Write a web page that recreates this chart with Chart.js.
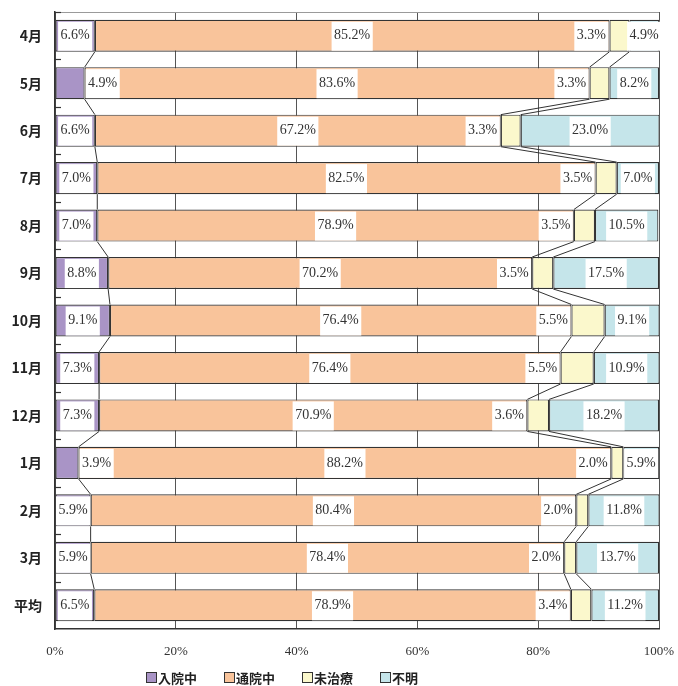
<!DOCTYPE html>
<html>
<head>
<meta charset="utf-8">
<script src="https://cdn.jsdelivr.net/npm/chart.js@4/dist/chart.umd.min.js"></script>
<style>
  html, body { margin: 0; padding: 0; background: #fff; }
  #wrap { width: 678px; height: 686px; position: relative; }
</style>
</head>
<body>
<div id="wrap"><canvas id="c" width="678" height="686"></canvas></div>
<script>
// Monthly breakdown of treatment status (percent of cases)
const months = ['4月', '5月', '6月', '7月', '8月', '9月', '10月', '11月', '12月', '1月', '2月', '3月', '平均'];
const seriesNames = ['入院中', '通院中', '未治療', '不明'];
const inpatient  = [6.6, 4.9, 6.6, 7.0, 7.0, 8.8, 9.1, 7.3, 7.3, 3.9, 5.9, 5.9, 6.5];
const outpatient = [85.2, 83.6, 67.2, 82.5, 78.9, 70.2, 76.4, 76.4, 70.9, 88.2, 80.4, 78.4, 78.9];
const untreated  = [3.3, 3.3, 3.3, 3.5, 3.5, 3.5, 5.5, 5.5, 3.6, 2.0, 2.0, 2.0, 3.4];
const unknown    = [4.9, 8.2, 23.0, 7.0, 10.5, 17.5, 9.1, 10.9, 18.2, 5.9, 11.8, 13.7, 11.2];
const xTicks = [0, 20, 40, 60, 80, 100];

const colors = ['#A994C6', '#F9C49B', '#FBF8CC', '#C5E5EA'];
const seriesValues = [inpatient, outpatient, untreated, unknown];

const SERIF = '"Liberation Serif", "Times New Roman", serif';
const SANS = '"Noto Sans CJK JP", "Noto Sans", sans-serif';

// Series lines between neighbouring bars, inward ticks and the top frame line
const framePlugin = {
  id: 'frame',
  afterDatasetsDraw(chart) {
    const ctx = chart.ctx;
    const area = chart.chartArea;
    const y = chart.scales.y;
    ctx.save();
    // top frame
    ctx.strokeStyle = '#9a9a9a';
    ctx.lineWidth = 1;
    ctx.beginPath();
    ctx.moveTo(area.left, area.top + 0.5);
    ctx.lineTo(area.right, area.top + 0.5);
    ctx.stroke();
    // inward ticks between categories
    ctx.strokeStyle = '#333';
    ctx.lineWidth = 1.2;
    for (let i = 0; i < months.length; i++) {
      const p = i === 0 ? area.top : (y.getPixelForValue(i - 1) + y.getPixelForValue(i)) / 2;
      ctx.beginPath();
      ctx.moveTo(area.left, Math.round(p) + 0.5);
      ctx.lineTo(area.left + 6, Math.round(p) + 0.5);
      ctx.stroke();
    }
    // series lines
    ctx.strokeStyle = '#333';
    ctx.lineWidth = 1;
    for (let d = 0; d < 3; d++) {
      const els = chart.getDatasetMeta(d).data;
      for (let i = 0; i < els.length - 1; i++) {
        const a = els[i], b = els[i + 1];
        ctx.beginPath();
        ctx.moveTo(a.x, a.y + a.height / 2);
        ctx.lineTo(b.x, b.y - b.height / 2);
        ctx.stroke();
      }
    }
    ctx.restore();
  }
};

// Value labels on white boxes
const labelPlugin = {
  id: 'valueLabels',
  afterDatasetsDraw(chart) {
    const ctx = chart.ctx;
    ctx.save();
    ctx.font = '14px ' + SERIF;
    ctx.textBaseline = 'middle';
    ctx.textAlign = 'center';
    chart.data.datasets.forEach((ds, d) => {
      chart.getDatasetMeta(d).data.forEach((el, i) => {
        const text = ds.data[i].toFixed(1) + '%';
        const tw = ctx.measureText(text).width;
        const w = tw + 5;
        const left = Math.min(el.base, el.x);
        const right = Math.max(el.base, el.x);
        const seg = right - left;
        let cx;
        if (d === 2) {
          cx = left - 1 - w / 2;
        } else if (d === 0 && seg < tw) {
          cx = right + 1 + w / 2;
        } else if (d === 3 && seg < tw) {
          cx = left + 2 + w / 2;
        } else {
          cx = (left + right) / 2;
        }
        const top = el.y - el.height / 2 + 2;
        const h = el.height - 3;
        ctx.fillStyle = '#fff';
        ctx.fillRect(cx - w / 2, top, w, h);
        ctx.fillStyle = '#333';
        ctx.fillText(text, cx, el.y);
      });
    });
    ctx.restore();
  }
};

// Legend row under the axis
const legendPlugin = {
  id: 'bottomLegend',
  afterDraw(chart) {
    const ctx = chart.ctx;
    ctx.save();
    ctx.font = 'bold 13px ' + SANS;
    ctx.textBaseline = 'middle';
    ctx.textAlign = 'left';
    let x = 146;
    const yc = 678;
    chart.data.datasets.forEach((ds) => {
      ctx.fillStyle = ds.backgroundColor;
      ctx.fillRect(x + 0.5, yc - 5.5, 10, 10);
      ctx.strokeStyle = '#333';
      ctx.lineWidth = 1;
      ctx.strokeRect(x + 0.5, yc - 5.5, 10, 10);
      ctx.fillStyle = '#222';
      ctx.fillText(ds.label, x + 12, yc);
      x += 12 + ctx.measureText(ds.label).width + 27;
    });
    ctx.restore();
  }
};

new Chart(document.getElementById('c'), {
  type: 'bar',
  data: {
    labels: months,
    datasets: seriesNames.map((name, k) => ({
      label: name,
      data: seriesValues[k],
      backgroundColor: colors[k],
      borderColor: '#333',
      borderWidth: 1.2,
      borderSkipped: false,
      barPercentage: 0.675,
      categoryPercentage: 1.0
    }))
  },
  options: {
    indexAxis: 'y',
    responsive: false,
    animation: false,
    devicePixelRatio: 1,
    layout: { padding: { top: 12, right: 19, bottom: 0, left: 0 } },
    plugins: {
      legend: { display: false },
      tooltip: { enabled: false }
    },
    scales: {
      x: {
        stacked: true,
        min: 0,
        max: 100,
        afterBuildTicks(scale) { scale.ticks = xTicks.map(v => ({ value: v })); },
        afterFit(scale) {
          scale.height = 57;
          scale.paddingLeft = 0;
          scale.paddingRight = 0;
        },
        ticks: {
          callback: v => v + '%',
          font: { family: SERIF, size: 13 },
          color: '#333',
          padding: 15,
          maxRotation: 0
        },
        grid: { color: '#555', lineWidth: 1, drawTicks: false },
        border: { display: true, color: '#333', width: 1.5 }
      },
      y: {
        stacked: true,
        afterFit(scale) {
          scale.width = 55;
          scale.paddingTop = 0;
          scale.paddingBottom = 0;
        },
        ticks: {
          font: { family: SANS, size: 14, weight: 'bold' },
          color: '#222',
          padding: 13
        },
        grid: { display: false, drawTicks: false },
        border: { display: true, color: '#333', width: 1.5 }
      }
    }
  },
  plugins: [framePlugin, labelPlugin, legendPlugin]
});
</script>
</body>
</html>
